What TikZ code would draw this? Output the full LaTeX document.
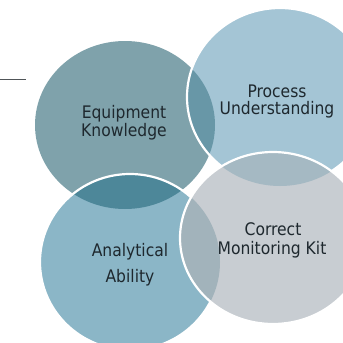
\documentclass[tikz,border=0pt]{standalone}
\usepackage{fontspec}
\setmainfont{DejaVu Sans Condensed}
\definecolor{cOne}{HTML}{7FA2AB}
\definecolor{cTwo}{HTML}{A4C5D5}
\definecolor{cThree}{HTML}{8BB6C7}
\definecolor{cFour}{HTML}{C8CDD2}
\definecolor{lOneTwo}{HTML}{6897A7}
\definecolor{lOneThree}{HTML}{4D8799}
\definecolor{lTwoFour}{HTML}{A5B9C3}
\definecolor{lThreeFour}{HTML}{A2B3BB}
\definecolor{txt}{HTML}{1E282E}
\definecolor{rule}{HTML}{505558}
\tikzset{
  lbl/.style={anchor=base,font=\fontsize{17.3}{19}\selectfont,text=txt,inner sep=0pt},
  rim/.style={draw=white,line width=2.2pt}
}
\begin{document}
\begin{tikzpicture}[x=1pt,y=-1pt]
\useasboundingbox (0,0) rectangle (343,343);
\clip (0,0) rectangle (343,343);
\def\cA{(125,125) ellipse [x radius=90,y radius=84]}
\def\cB{(280,97) ellipse [x radius=93,y radius=89]}
\def\cC{(130,262) ellipse [x radius=90,y radius=88]}
\def\cD{(273,238) ellipse [x radius=93,y radius=86]}
% circle 1
\fill[cOne] \cA;
% circle 2
\fill[cTwo] \cB;
\begin{scope}\clip \cA; \fill[lOneTwo] \cB; \end{scope}
\draw[rim] \cB;
% circle 3
\fill[cThree] \cC;
\begin{scope}\clip \cA; \fill[lOneThree] \cC; \end{scope}
\draw[rim] \cC;
% circle 4
\fill[cFour] \cD;
\begin{scope}\clip \cB; \fill[lTwoFour] \cD; \end{scope}
\begin{scope}\clip \cC; \fill[lThreeFour] \cD; \end{scope}
\draw[rim] \cD;
% rule at left
\coordinate (ruleA) at (0,79);
\coordinate (ruleB) at (26,79);
\draw[rule,line width=1pt] (ruleA) -- (ruleB);
% labels
\node[lbl] (eqa) at (124,118) {Equipment};
\node[lbl] (eqb) at (124,136) {Knowledge};
\node[lbl] (pra) at (277,97) {Process};
\node[lbl] (prb) at (277,114) {Understanding};
\node[lbl] (ana) at (130,256) {Analytical};
\node[lbl] (anb) at (130,282) {Ability};
\node[lbl] (coa) at (273,235) {Correct};
\node[lbl] (cob) at (272,254) {Monitoring Kit};
\end{tikzpicture}
\end{document}
